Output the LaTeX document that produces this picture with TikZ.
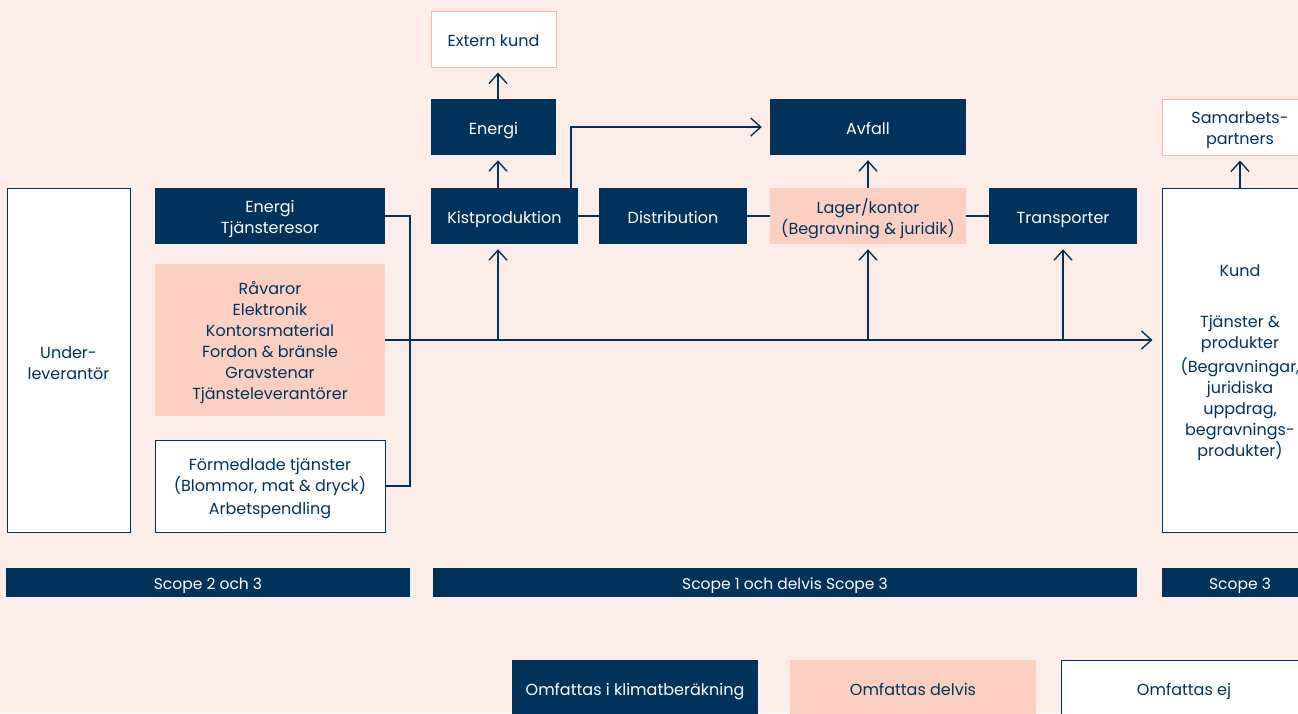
\documentclass[tikz,border=0pt]{standalone}
\usepackage{fontspec}
\setmainfont{Poppins}
\usetikzlibrary{arrows.meta,calc}
\definecolor{navy}{HTML}{00335C}
\definecolor{bgpink}{HTML}{FDEDE8}
\definecolor{peach}{HTML}{FBD0C3}
\definecolor{peachline}{HTML}{F8B8A3}
\begin{document}
\begin{tikzpicture}[x=1pt,y=-1pt,
  base/.style={rectangle,inner sep=0pt},
  dark/.style={base,fill=navy},
  part/.style={base,fill=peach},
  none/.style={base,fill=white,draw=navy,line width=1pt},
  ext/.style={base,fill=white,draw=peachline,line width=1pt},
  txt/.style={inner sep=0pt,align=center,text=navy,font=\fontsize{16}{21}\selectfont},
  txtw/.style={txt,text=white},
  oneline/.style={text height=11.6pt,text depth=3.4pt},
  scopetxt/.style={txtw,oneline,font=\fontsize{15.5}{18}\selectfont},
  legtxt/.style={txt,oneline,font=\fontsize{16}{18}\selectfont},
  conn/.style={draw=navy,line width=1.4pt},
  arr/.style={conn,-{Straight Barb[length=10pt,width=18pt,line width=1.4pt]},shorten >=5pt}
]
\fill[bgpink] (0,0) rectangle (1298,713);
\useasboundingbox (0,0) rectangle (1298,713);

% ---------- boxes ----------
\node[ext,minimum width=125,minimum height=56] (extern) at (493.5,39) {};
\node[dark,minimum width=125,minimum height=56] (energi) at (493.5,127) {};
\node[dark,minimum width=196,minimum height=56] (avfall) at (868,127) {};
\node[ext,minimum width=156,minimum height=56] (samarb) at (1240,127) {};

\node[none,minimum width=123,minimum height=344] (under) at (68.5,360) {};
\node[dark,minimum width=230,minimum height=56] (etj) at (270,216) {};
\node[part,minimum width=230,minimum height=152] (rav) at (270,340) {};
\node[none,minimum width=230,minimum height=92] (form) at (270,486) {};

\node[dark,minimum width=147,minimum height=56] (kist) at (504.5,216) {};
\node[dark,minimum width=148,minimum height=56] (dist) at (673,216) {};
\node[part,minimum width=196,minimum height=56] (lager) at (868,216) {};
\node[dark,minimum width=148,minimum height=56] (transp) at (1063,216) {};

\node[none,minimum width=156,minimum height=344] (kund) at (1240,360) {};

\node[dark,minimum width=404,minimum height=29] (s23) at (208,582.5) {};
\node[dark,minimum width=704,minimum height=29] (s13) at (785,582.5) {};
\node[dark,minimum width=156,minimum height=29] (s3) at (1240,582.5) {};

\node[dark,minimum width=246,minimum height=56] (leg1) at (635,688) {};
\node[part,minimum width=246,minimum height=56] (leg2) at (913,688) {};
\node[none,minimum width=246,minimum height=56] (leg3) at (1184,688) {};

% ---------- texts ----------
\node[txt,oneline]  (extern-t) at ([yshift=-3pt]extern.center) {Extern kund};
\node[txtw,oneline] (energi-t) at ([yshift=-3pt]energi.center) {Energi};
\node[txtw,oneline] (avfall-t) at ([yshift=-3pt]avfall.center) {Avfall};
\node[txt]  (samarb-t) at ([yshift=-3pt]samarb.center) {Samarbets-\\partners};
\node[txt]  (under-t) at ([yshift=-3pt]under.center) {Under-\\leverantör};
\node[txtw] (etj-t) at ([yshift=-3pt]etj.center) {Energi\\Tjänsteresor};
\node[txt]  (rav-t) at ([yshift=-3pt]rav.center) {Råvaror\\Elektronik\\Kontorsmaterial\\Fordon \& bränsle\\Gravstenar\\Tjänsteleverantörer};
\node[txt]  (form-t) at ([yshift=-3pt]form.center) {Förmedlade tjänster\\(Blommor, mat \& dryck)\\[2pt]Arbetspendling};
\node[txtw,oneline] (kist-t) at ([yshift=-3pt]kist.center) {Kistproduktion};
\node[txtw,oneline] (dist-t) at ([yshift=-3pt]dist.center) {Distribution};
\node[txt]  (lager-t) at ([yshift=-3pt]lager.center) {Lager/kontor\\(Begravning \& juridik)};
\node[txtw,oneline] (transp-t) at ([yshift=-3pt]transp.center) {Transporter};
\node[txt]  (kund-t) at ([yshift=-3pt]kund.center) {Kund\\[30pt]Tjänster \&\\produkter\\[3pt](Begravningar,\\juridiska\\uppdrag,\\begravnings-\\produkter)};
\node[scopetxt] (s23-t) at ([yshift=-3pt]s23.center) {Scope 2 och 3};
\node[scopetxt] (s13-t) at ([yshift=-3pt]s13.center) {Scope 1 och delvis Scope 3};
\node[scopetxt] (s3-t) at ([yshift=-3pt]s3.center) {Scope 3};
\node[legtxt,text=white] (leg1-t) at ([yshift=-3pt]leg1.center) {Omfattas i klimatberäkning};
\node[legtxt] (leg2-t) at ([yshift=-3pt]leg2.center) {Omfattas delvis};
\node[legtxt] (leg3-t) at ([yshift=-3pt]leg3.center) {Omfattas ej};

% named x positions
\coordinate (x498) at (498,0);
\coordinate (x571) at (571,0);
\coordinate (x410) at (410,0);
\coordinate (x1063) at (1063,0);

% ---------- connectors ----------
\draw[conn] (etj.east) -| (etj.east -| x410) |- (form.east);
\draw[arr,shorten >=9pt] (rav.east) -- (rav.east -| kund.west);
\draw[arr] (rav.east -| x498) -- (kist.south -| x498);
\draw[arr] (rav.east -| lager.south) -- (lager.south);
\draw[arr] (rav.east -| x1063) -- (transp.south -| x1063);
\draw[conn] (kist.east) -- (dist.west);
\draw[conn] (dist.east) -- (lager.west);
\draw[conn] (lager.east) -- (transp.west);
\draw[arr] (kist.north -| x498) -- (energi.south -| x498);
\draw[arr] (energi.north -| x498) -- (extern.south -| x498);
\draw[arr,shorten >=8pt] (kist.north -| x571) |- (avfall.west);
\draw[arr] (lager.north) -- (avfall.south);
\draw[arr] (kund.north) -- (samarb.south);
\end{tikzpicture}
\end{document}
